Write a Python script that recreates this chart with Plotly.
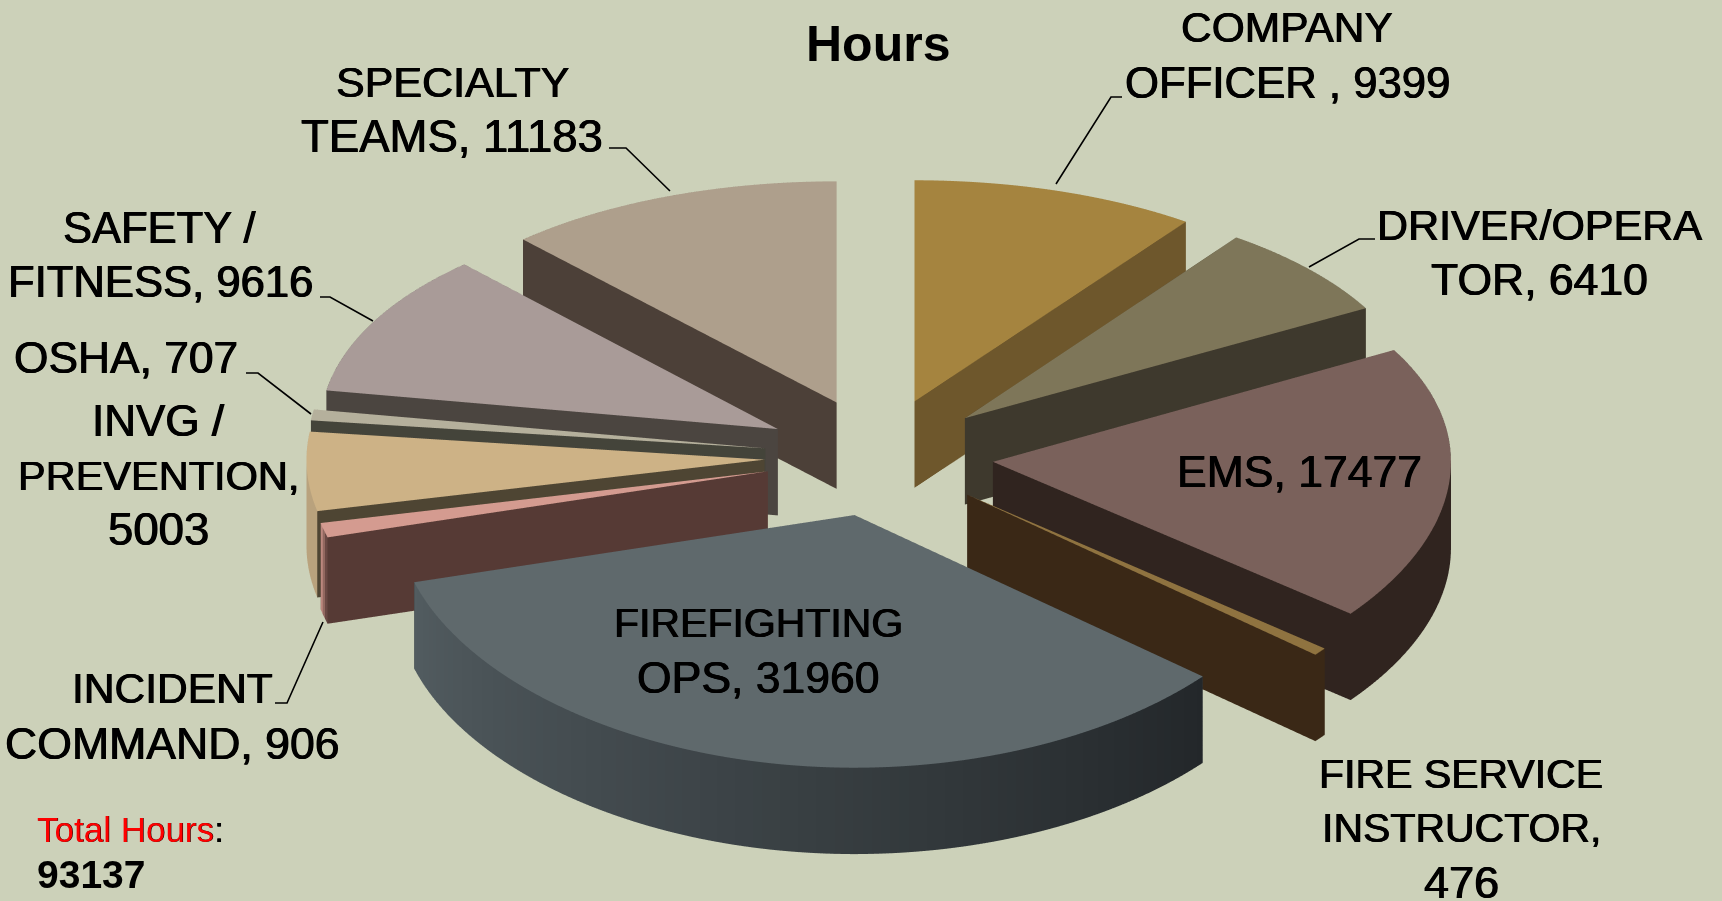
import math
import plotly.graph_objects as go

W, H = 1722, 901
BG = "#CCD1B9"
FONT = "Liberation Sans"
FAUX = "0.6px 0 0 #000, -0.5px 0 0 #000"
LINE_GAP = 54.4

names = ["COMPANY OFFICER", "DRIVER/OPERATOR", "EMS", "FIRE SERVICE INSTRUCTOR", "FIREFIGHTING OPS",
         "INCIDENT COMMAND", "INVG / PREVENTION", "OSHA", "SAFETY / FITNESS", "SPECIALTY TEAMS"]
values = [9399, 6410, 17477, 476, 31960, 906, 5003, 707, 9616, 11183]
total_hours = 93137
top_colors = ["#A5843F", "#7E7659", "#7A615B", "#8F7340", "#5F696C", "#D49B90", "#CDB286", "#B5B09C", "#A99B98", "#AE9F8C"]
wall_start = ["#6E572C", "#3E392D", "#30241F", "#3A2816", "#23272A", "#563A35", "#B9A27D", "#A8A492", "#4B4540", "#4C4038"]
wall_end = ["#6E572C", "#3E392D", "#30241F", "#3A2816", "#525C60", "#CF968C", "#B9A27D", "#A8A492", "#4B4540", "#4C4038"]
radial_colors = ["#6E572C", "#3E392D", "#30241F", "#3A2816", "#3A4043", "#563A35", "#4E4533", "#44443A", "#4B4540", "#4C4038"]

label_text = ["COMPANY<br>OFFICER , 9399", "DRIVER/OPERA<br>TOR, 6410", "EMS, 17477",
              "FIRE SERVICE<br>INSTRUCTOR,<br>476", "FIREFIGHTING<br>OPS, 31960", "INCIDENT<br>COMMAND, 906",
              "INVG /<br>PREVENTION,<br>5003", "OSHA, 707", "SAFETY /<br>FITNESS, 9616", "SPECIALTY<br>TEAMS, 11183"]
label_x = [1287, 1539, 1299, 1461, 758, 172, 158, 126, 160, 452]
label_y = [55, 252, 471, 828, 650, 716, 475, 357, 255, 109]
label_size = [[42.5, 43.7], [43, 44.5], [44.5], [41, 41, 45], [41, 44.5], [42.5, 44.6],
              [44, 41.5, 45.5], [44.3], [43.5, 43.6], [43, 45.5]]

leader_x = [[1122, 1111, 1056], [1375, 1359, 1309], [320, 330, 373], [246, 258, 311], [275, 287, 323], [609, 626, 670]]
leader_y = [[97, 97, 184], [239, 239, 267], [297, 297, 321], [373, 373, 414], [703, 703, 622], [148, 148, 191]]

EXPLODE = 0.25
THICK = 0.22
EYE_DIST = 6
ELEV = 31
SCALE = 3.05
WARP = 0.045
PIE_DX = 0.039
PIE_DZ = 0.014


def hexrgb(c):
    return tuple(int(c[i:i + 2], 16) for i in (1, 3, 5))


def mix(a, b, t):
    ra, rb = hexrgb(a), hexrgb(b)
    return "rgb(%d,%d,%d)" % tuple(round(ra[i] + (rb[i] - ra[i]) * t) for i in range(3))


fig = go.Figure()
tot = sum(values)
acc = 0
for k, v in enumerate(values):
    a0 = acc / tot * 2 * math.pi
    acc += v
    a1 = acc / tot * 2 * math.pi
    mid = (a0 + a1) / 2
    ox, oy = EXPLODE * math.sin(mid), EXPLODE * math.cos(mid)
    n = max(3, int((a1 - a0) / 0.02))
    xs, ys, zs, I, J, K, fc = [], [], [], [], [], [], []

    def vert(x, y, z):
        xs.append(x + PIE_DX); ys.append(y / (1 + WARP * y)); zs.append(z + PIE_DZ)
        return len(xs) - 1

    def tri(a, b, c, col):
        I.append(a); J.append(b); K.append(c); fc.append(col)

    at = vert(ox, oy, THICK)
    ab = vert(ox, oy, 0)
    tops, bots = [], []
    for s in range(n + 1):
        t = a0 + (a1 - a0) * s / n
        px, py = ox + math.sin(t), oy + math.cos(t)
        tops.append(vert(px, py, THICK))
        bots.append(vert(px, py, 0))
    for s in range(n):
        tri(at, tops[s], tops[s + 1], top_colors[k])
        col = mix(wall_start[k], wall_end[k], (s + 0.5) / n)
        tri(tops[s], bots[s], bots[s + 1], col)
        tri(tops[s], bots[s + 1], tops[s + 1], col)
    for idx in (0, n):
        tri(at, ab, bots[idx], radial_colors[k])
        tri(at, bots[idx], tops[idx], radial_colors[k])
    fig.add_trace(go.Mesh3d(x=xs, y=ys, z=zs, i=I, j=J, k=K, facecolor=fc, flatshading=True,
                            lighting=dict(ambient=1, diffuse=0, specular=0, fresnel=0, roughness=1),
                            hoverinfo="skip", name=names[k], showscale=False))

hidden = dict(visible=False, showgrid=False, zeroline=False, showbackground=False, showspikes=False)
e = math.radians(ELEV)
fig.update_layout(
    width=W, height=H, margin=dict(l=0, r=0, t=0, b=0), paper_bgcolor=BG, showlegend=False,
    scene=dict(
        domain=dict(x=[0, 1], y=[0, 1]), bgcolor=BG,
        xaxis=dict(range=[-1.5, 1.5], **hidden), yaxis=dict(range=[-1.5, 1.5], **hidden),
        zaxis=dict(range=[-0.25, 0.75], **hidden),
        aspectmode="manual", aspectratio=dict(x=SCALE, y=SCALE, z=SCALE / 3),
        camera=dict(eye=dict(x=0, y=-EYE_DIST * math.cos(e), z=EYE_DIST * math.sin(e)),
                    center=dict(x=0, y=0, z=0), up=dict(x=0, y=0, z=1),
                    projection=dict(type="orthographic")),
    ),
)

for txt, x, y, sizes in zip(label_text, label_x, label_y, label_size):
    lines = txt.split("<br>")
    for m, (line, fs) in enumerate(zip(lines, sizes)):
        yy = y + (m - (len(lines) - 1) / 2) * LINE_GAP
        fig.add_annotation(text=line, x=x / W, y=1 - yy / H, xref="paper", yref="paper", showarrow=False,
                           xanchor="center", yanchor="middle", align="center",
                           font=dict(family=FONT, size=fs, color="black", shadow=FAUX))
fig.add_annotation(text="<b>Hours</b>", x=878 / W, y=1 - 44 / H, xref="paper", yref="paper", showarrow=False,
                   xanchor="center", yanchor="middle",
                   font=dict(family=FONT, size=50, color="black"))
fig.add_annotation(text='<span style="color:#FF0000">Total Hours</span>:', x=35 / W, y=1 - 829 / H,
                   xref="paper", yref="paper", showarrow=False, xanchor="left", yanchor="middle",
                   font=dict(family=FONT, size=35, color="black", shadow="0.5px 0 0 currentColor"))
fig.add_annotation(text=f"<b>{total_hours}</b>", x=35 / W, y=1 - 874 / H,
                   xref="paper", yref="paper", showarrow=False, xanchor="left", yanchor="middle",
                   font=dict(family=FONT, size=39, color="black"))
for lx, ly in zip(leader_x, leader_y):
    path = "M " + " L ".join(f"{a / W:.5f},{1 - b / H:.5f}" for a, b in zip(lx, ly))
    fig.add_shape(type="path", path=path, xref="paper", yref="paper", line=dict(color="black", width=1.6))

fig.write_html("out.html", config=dict(displayModeBar=False),
               post_script="document.documentElement.style.margin='0';document.body.style.margin='0';"
                           "document.body.style.overflow='hidden';document.body.style.background='%s';" % BG)
